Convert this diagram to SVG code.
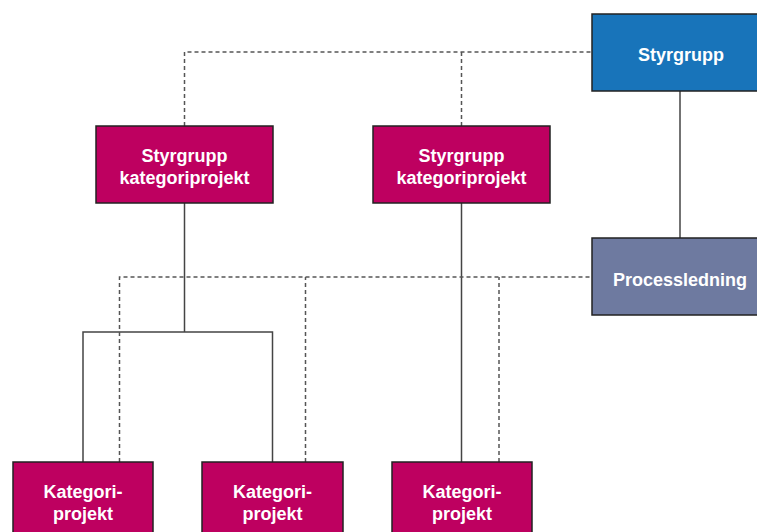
<svg xmlns="http://www.w3.org/2000/svg" width="757" height="532" viewBox="0 0 757 532">
<style>
.box{stroke:#222;stroke-width:1.5}
.blue{fill:#1874BA}
.mag{fill:#BE0060}
.proc{fill:#6E7AA0}
.t{font-family:"Liberation Sans",Arial,sans-serif;font-weight:bold;font-size:18px;fill:#fff;text-anchor:middle}
.s{fill:none;stroke:#444;stroke-width:1.5}
.d{fill:none;stroke:#555;stroke-width:1.5;stroke-dasharray:4 3}
</style>
<rect width="757" height="532" fill="#fff"/>
<g id="connectors">
<path class="d" d="M184.5,126 V52 H592"/>
<path class="d" d="M461.5,126 V52"/>
<path class="s" d="M680,91 V238"/>
<path class="s" d="M184.5,203 V332 M83,462 V332 H272.5 V462"/>
<path class="s" d="M461.5,203 V462"/>
<path class="d" d="M119.5,462 V277 H592"/>
<path class="d" d="M305.5,462 V277"/>
<path class="d" d="M499,462 V277"/>
</g>
<g id="styrgrupp">
<rect class="box blue" x="592" y="14" width="178" height="77"/>
<text class="t" x="681" y="61">Styrgrupp</text>
</g>
<g id="styrgrupp-kat-1">
<rect class="box mag" x="96" y="126" width="177" height="77"/>
<text class="t" x="184.5" y="162">Styrgrupp</text>
<text class="t" x="184.5" y="184">kategoriprojekt</text>
</g>
<g id="styrgrupp-kat-2">
<rect class="box mag" x="373" y="126" width="177" height="77"/>
<text class="t" x="461.5" y="162">Styrgrupp</text>
<text class="t" x="461.5" y="184">kategoriprojekt</text>
</g>
<g id="processledning">
<rect class="box proc" x="592" y="238" width="178" height="77"/>
<text class="t" x="680" y="286">Processledning</text>
</g>
<g id="kategori-1">
<rect class="box mag" x="13" y="462" width="140" height="80"/>
<text class="t" x="83" y="498">Kategori-</text>
<text class="t" x="83" y="520">projekt</text>
</g>
<g id="kategori-2">
<rect class="box mag" x="202" y="462" width="141" height="80"/>
<text class="t" x="272.5" y="498">Kategori-</text>
<text class="t" x="272.5" y="520">projekt</text>
</g>
<g id="kategori-3">
<rect class="box mag" x="392" y="462" width="140" height="80"/>
<text class="t" x="462" y="498">Kategori-</text>
<text class="t" x="462" y="520">projekt</text>
</g>
</svg>
